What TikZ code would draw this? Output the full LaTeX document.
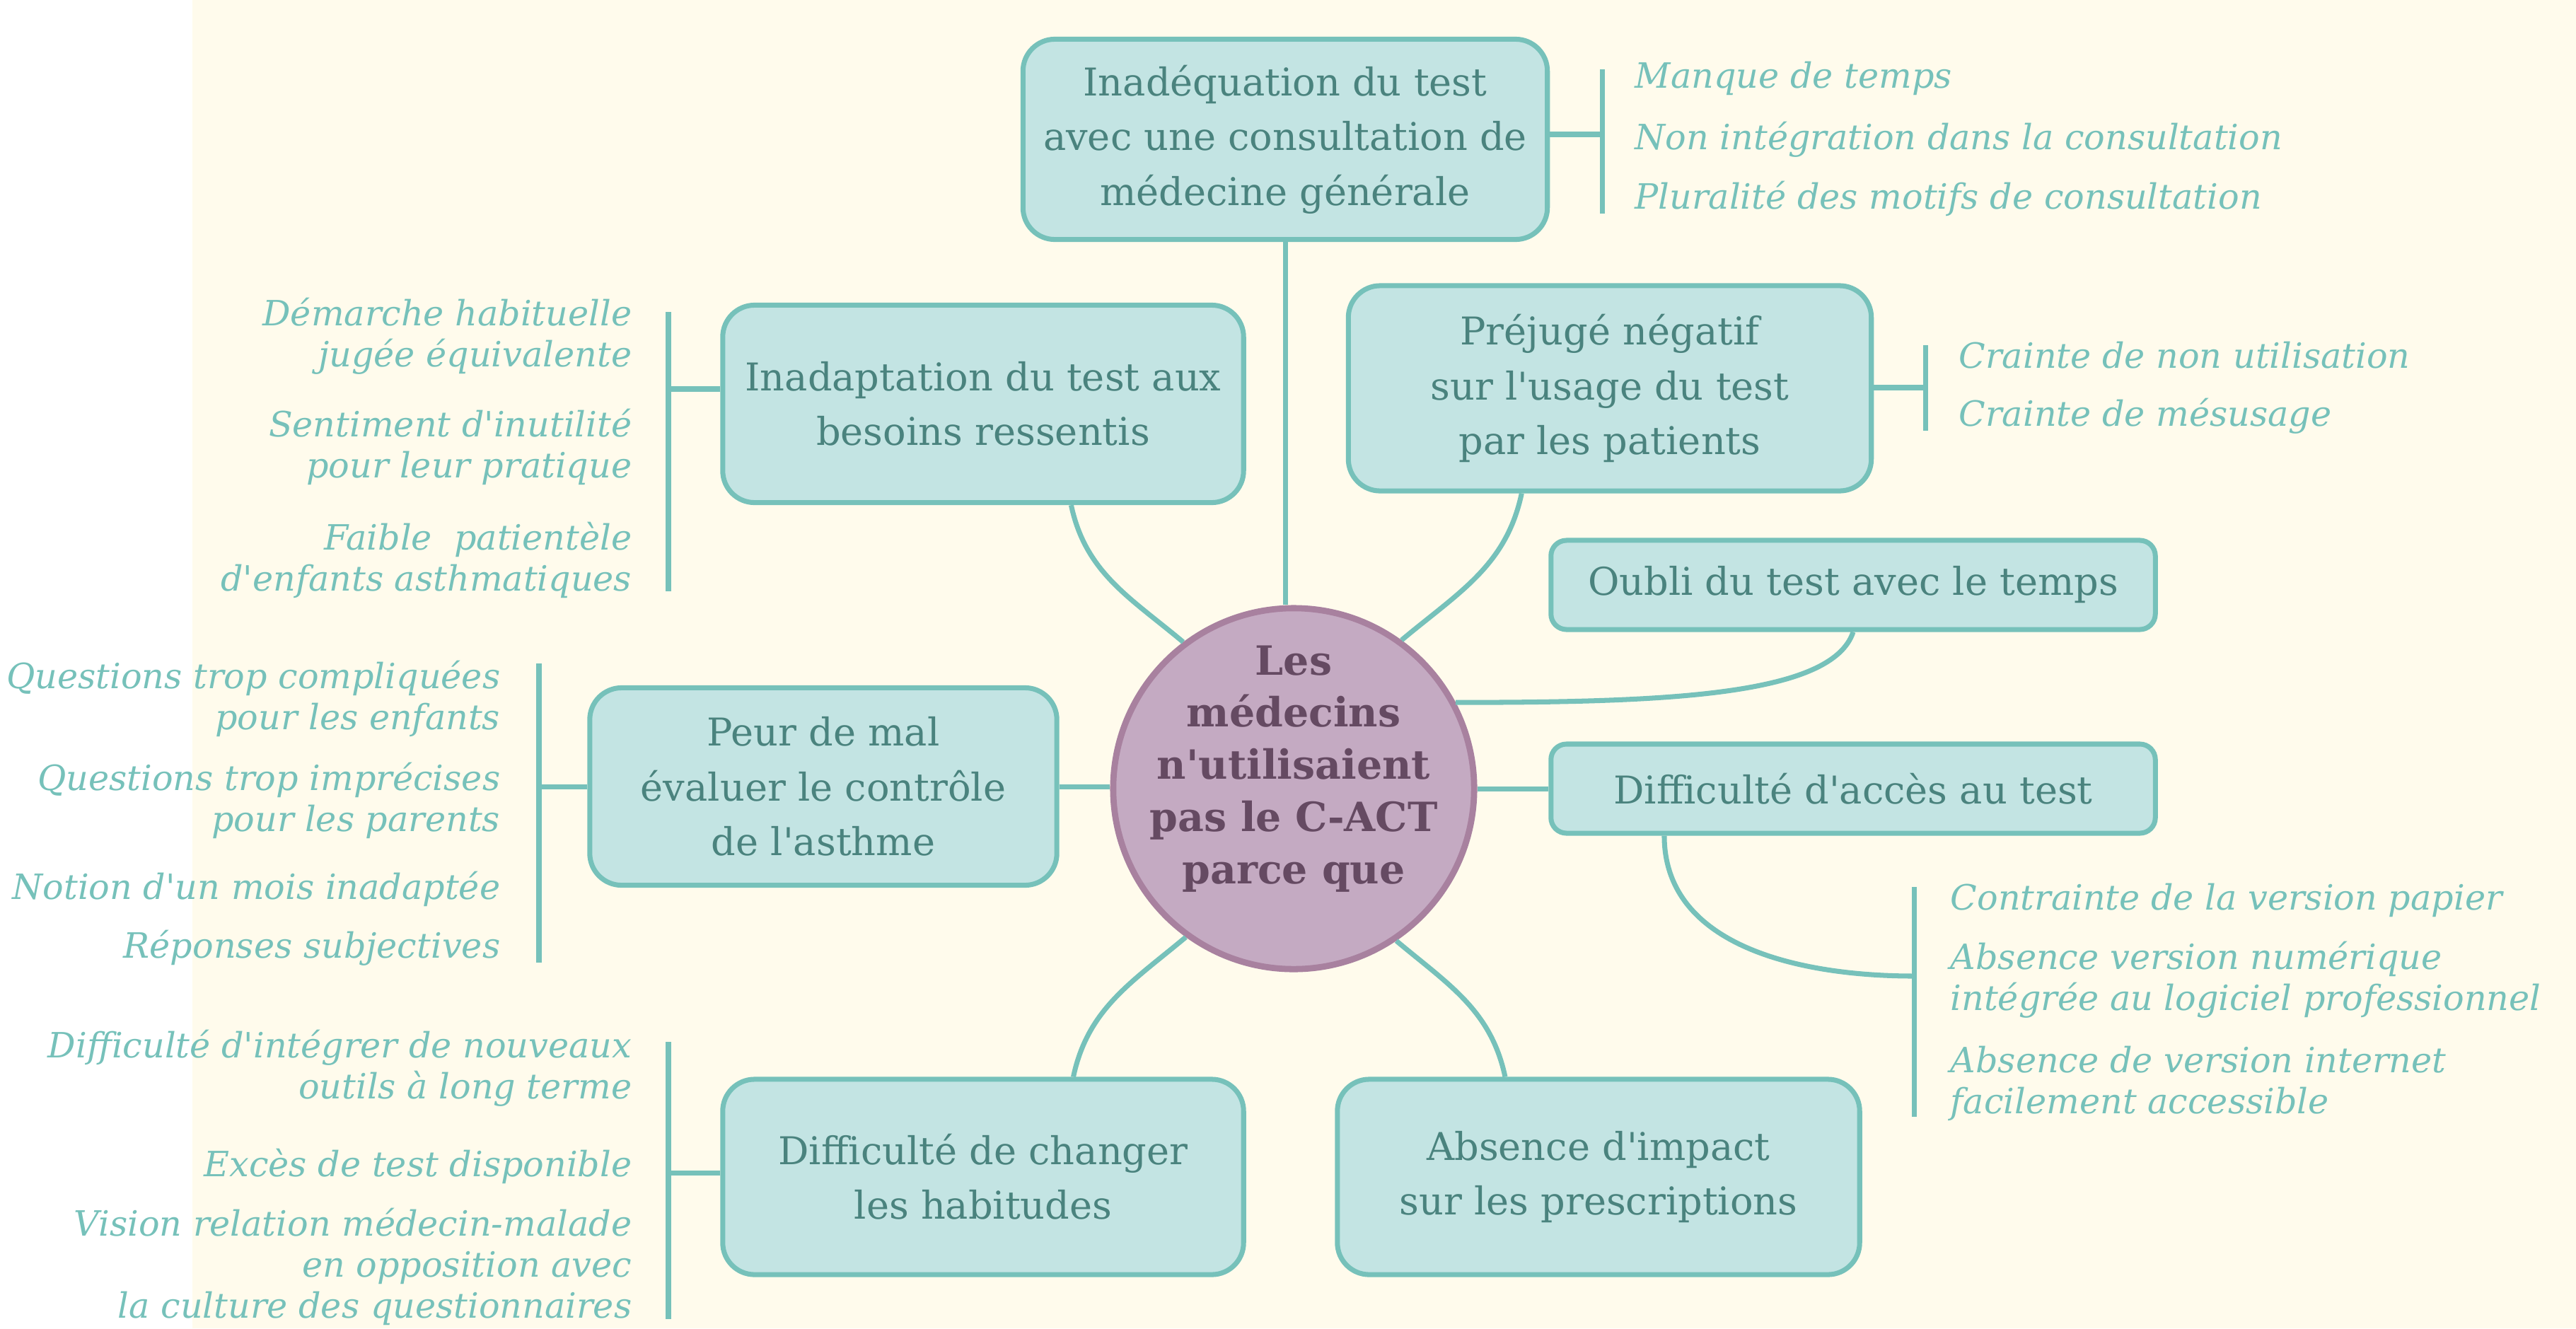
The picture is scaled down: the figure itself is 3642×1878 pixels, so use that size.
\documentclass[tikz,border=0pt]{standalone}
\usepackage{fontspec}
\setmainfont{DejaVu Serif}[Ligatures=TeXOff]
\usetikzlibrary{calc}

\definecolor{cream}{HTML}{FFFBEC}
\definecolor{boxfill}{HTML}{C3E4E3}
\definecolor{mapline}{HTML}{76C1BA}
\definecolor{boxink}{HTML}{4A837E}
\definecolor{hubfill}{HTML}{C4AAC2}
\definecolor{hubline}{HTML}{A8819F}
\definecolor{hubink}{HTML}{654A62}

\tikzset{
  cause/.style={draw=mapline, line width=2pt, fill=boxfill, rounded corners=0.45cm,
    text=boxink, align=center, inner sep=0pt, font=\fontsize{15.4}{22}\selectfont},
  smallcause/.style={cause, rounded corners=0.22cm},
  hub/.style={circle, draw=hubline, line width=2.5pt, fill=hubfill, minimum size=5.1cm},
  hubtext/.style={text=hubink, align=center, font=\bfseries\fontsize{16.2}{21}\selectfont},
  reason/.style={text=mapline, inner sep=0pt, font=\itshape\fontsize{14}{16.5}\selectfont},
  link/.style={draw=mapline, line width=2pt},
}

\begin{document}
\begin{tikzpicture}[x=0.01cm, y=-0.01cm]
  \useasboundingbox (0,0) rectangle (3642,1878);
  \fill[white] (0,0) rectangle (3642,1878);
  \fill[cream] (272,0) rectangle (3642,1878);

  % centre
  \node[hub] (hub) at (1829,1115) {};
  \node[hubtext] (hubt) at ([yshift=0.28cm]hub.center) {Les\\médecins\\n'utilisaient\\pas le C-ACT\\parce que};

  % causes
  \node[cause, minimum width=7.41cm, minimum height=2.83cm] (inadeq) at (1817,197) {Inadéquation du test\\avec une consultation de\\médecine générale};
  \node[cause, minimum width=7.36cm, minimum height=2.79cm] (inadapt) at (1390,571) {Inadaptation du test aux\\besoins ressentis};
  \node[cause, minimum width=7.39cm, minimum height=2.90cm] (prejuge) at (2276,549) {Préjugé négatif\\sur l'usage du test\\par les patients};
  \node[smallcause, minimum width=8.54cm, minimum height=1.26cm] (oubli) at (2620,827) {Oubli du test avec le temps};
  \node[smallcause, minimum width=8.54cm, minimum height=1.26cm] (acces) at (2620,1115) {Difficulté d'accès au test};
  \node[cause, minimum width=6.60cm, minimum height=2.79cm] (peur) at (1164,1112) {Peur de mal\\évaluer le contrôle\\de l'asthme};
  \node[cause, minimum width=7.36cm, minimum height=2.76cm] (habit) at (1390,1664) {Difficulté de changer\\les habitudes};
  \node[cause, minimum width=7.38cm, minimum height=2.76cm] (impact) at (2260,1664) {Absence d'impact\\sur les prescriptions};

  % links to the centre
  \draw[link] (inadeq.south) -- (inadeq.south |- hub.north);
  \draw[link] (inadapt.-49) to[out=-78, in=140] (hub.127);
  \draw[link] (prejuge.230) to[out=-102, in=40] (hub.54);
  \draw[link] (oubli.south) .. controls +(-30,90) and +(300,0) .. (hub.28);
  \draw[link] (hub.east) -- (acces.west);
  \draw[link] (peur.east) -- (peur.east -| hub.west);
  \draw[link] (habit.48.5) to[out=78, in=-140] (hub.234);
  \draw[link] (impact.133) to[out=102, in=-40] (hub.304);

  % reasons, top
  \node[reason, anchor=west] (inadeq1) at (2311,111) {Manque de temps};
  \node[reason, anchor=west] (inadeq2) at (2311,197) {Non intégration dans la consultation};
  \node[reason, anchor=west] (inadeq3) at (2311,281) {Pluralité des motifs de consultation};
  \coordinate (inadeqtop) at (2265,98);
  \coordinate (inadeqbot) at (2265,302);
  \draw[link] (inadeqtop) -- (inadeqbot);
  \draw[link] (inadeq.east |- 0,190) -- (inadeqtop |- 0,190);

  % reasons, upper left
  \node[reason, anchor=east, align=right] (inadapt1) at (894,475) {Démarche habituelle\\jugée équivalente};
  \node[reason, anchor=east, align=right] (inadapt2) at (894,632) {Sentiment d'inutilité\\pour leur pratique};
  \node[reason, anchor=east, align=right] (inadapt3) at (894,792) {Faible~ patientèle\\d'enfants asthmatiques};
  \coordinate (inadapttop) at (945,441);
  \coordinate (inadaptbot) at (945,836);
  \draw[link] (inadapttop) -- (inadaptbot);
  \draw[link] (inadapt.west |- 0,550) -- (inadapttop |- 0,550);

  % reasons, upper right
  \node[reason, anchor=west] (prejuge1) at (2769,502) {Crainte de non utilisation};
  \node[reason, anchor=west] (prejuge2) at (2769,588) {Crainte de mésusage};
  \coordinate (prejugetop) at (2722,488);
  \coordinate (prejugebot) at (2722,609);
  \draw[link] (prejugetop) -- (prejugebot);
  \draw[link] (prejuge.east |- 0,548) -- (prejugetop |- 0,548);

  % reasons, lower right
  \node[reason, anchor=west] (acces1) at (2757,1273) {Contrainte de la version papier};
  \node[reason, anchor=west, align=left] (acces2) at (2757,1385) {Absence version numérique\\intégrée au logiciel professionnel};
  \node[reason, anchor=west, align=left] (acces3) at (2757,1532) {Absence de version internet\\facilement accessible};
  \coordinate (accestop) at (2706,1254);
  \coordinate (accesbot) at (2706,1579);
  \draw[link] (accestop) -- (accesbot);
  \draw[link] (acces.194.6) to[out=-90, in=180] (accestop |- 0,1380);

  % reasons, left
  \node[reason, anchor=east, align=right] (peur1) at (708,988) {Questions trop compliquées\\pour les enfants};
  \node[reason, anchor=east, align=right] (peur2) at (708,1132) {Questions trop imprécises\\pour les parents};
  \node[reason, anchor=east] (peur3) at (708,1257) {Notion d'un mois inadaptée};
  \node[reason, anchor=east] (peur4) at (708,1340) {Réponses subjectives};
  \coordinate (peurtop) at (762,938);
  \coordinate (peurbot) at (762,1361);
  \draw[link] (peurtop) -- (peurbot);
  \draw[link] (peur.west) -- (peur.west -| peurtop);

  % reasons, lower left
  \node[reason, anchor=east, align=right] (habit1) at (894,1510) {Difficulté d'intégrer de nouveaux\\outils à long terme};
  \node[reason, anchor=east] (habit2) at (894,1649) {Excès de test disponible};
  \node[reason, anchor=east, align=right] (habit3) at (894,1791) {Vision relation médecin-malade\\en opposition avec\\la culture des questionnaires};
  \coordinate (habittop) at (945,1473);
  \coordinate (habitbot) at (945,1865);
  \draw[link] (habittop) -- (habitbot);
  \draw[link] (habit.west |- 0,1658) -- (habittop |- 0,1658);
\end{tikzpicture}
\end{document}
